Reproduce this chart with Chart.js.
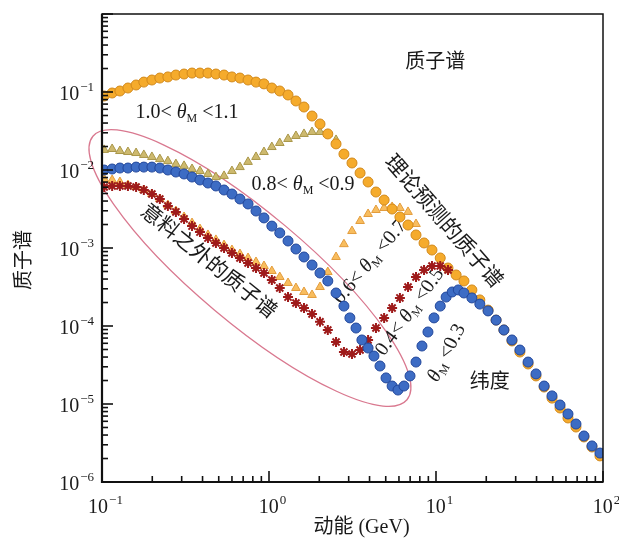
<!DOCTYPE html>
<html>
<head>
<meta charset="utf-8">
<script src="https://cdn.jsdelivr.net/npm/chart.js@4.4.1/dist/chart.umd.min.js"></script>
<style>
  html, body { margin: 0; padding: 0; background: #fff; }
</style>
</head>
<body>
<canvas id="chart" width="619" height="544"></canvas>
<script>
// --- valores: energia cinetica (GeV) y flujo ---
// 1.0 < θM < 1.1 (espectro teorico)
const energyTheory = [0.103, 0.115, 0.128, 0.143, 0.160, 0.178, 0.199, 0.222, 0.248, 0.277, 0.310, 0.346, 0.386, 0.431, 0.481, 0.538, 0.600, 0.670, 0.749, 0.836, 0.933,
  1.04, 1.16, 1.30, 1.45, 1.62, 1.81, 2.02, 2.25, 2.52, 2.81, 3.14, 3.51, 3.92, 4.37, 4.89, 5.46, 6.08, 6.80, 7.59, 8.48, 9.46,
  10.6, 11.8, 13.2, 14.7, 16.4, 18.3, 20.5, 22.9, 25.5, 28.5, 31.8, 35.6, 39.7, 44.4, 49.5, 55.3, 61.7, 68.9, 76.9, 85.9, 95.9];
const fluxTheory = [0.0889, 0.0971, 0.103, 0.1125, 0.123, 0.134, 0.1425, 0.151, 0.156, 0.165, 0.170, 0.175, 0.175, 0.175, 0.170, 0.165, 0.156, 0.151, 0.1425, 0.134, 0.127,
  0.1125, 0.103, 0.0916, 0.0767, 0.0642, 0.0492, 0.0389, 0.0290, 0.0216, 0.0160, 0.0123, 0.00916, 0.00702, 0.00522, 0.00412, 0.00316, 0.00250, 0.00197, 0.00147, 0.00116, 0.000942,
  0.000745, 0.000554, 0.000451, 0.000378, 0.000290, 0.000216, 0.000160, 0.000119, 8.89e-5, 6.43e-5, 4.64e-5, 3.26e-5, 2.29e-5, 1.65e-5, 1.19e-5, 8.89e-6, 6.62e-6, 5.07e-6, 3.78e-6, 2.81e-6, 2.16e-6];

// 0.8 < θM < 0.9
const energy89 = [0.103, 0.115, 0.128, 0.143, 0.160, 0.178, 0.199, 0.222, 0.248, 0.277, 0.310, 0.346, 0.386, 0.431, 0.481, 0.538, 0.600, 0.670, 0.749, 0.836, 0.933,
  1.04, 1.16, 1.30, 1.45, 1.62, 1.81, 2.02, 2.25, 2.52];
const flux89 = [0.0181, 0.0186, 0.0175, 0.0170, 0.0165, 0.0156, 0.0147, 0.0138, 0.0130, 0.0119, 0.0113, 0.0103, 0.0097, 0.0089, 0.0081, 0.0084, 0.0097, 0.0109, 0.0127, 0.0147, 0.0170,
  0.0197, 0.0222, 0.0250, 0.0273, 0.0290, 0.0307, 0.0307, 0.0290, 0.0243];

// 0.6 < θM < 0.7
const energy67 = [0.103, 0.115, 0.128, 0.143, 0.160, 0.178, 0.199, 0.222, 0.248, 0.277, 0.310, 0.346, 0.386, 0.431, 0.481, 0.538, 0.600, 0.670, 0.749, 0.836, 0.933,
  1.04, 1.16, 1.30, 1.45, 1.62, 1.81, 2.02, 2.25, 2.52, 2.81, 3.14, 3.51, 3.92, 4.37, 4.89, 5.46, 6.08, 6.80, 7.59];
const flux67 = [0.00767, 0.00745, 0.00702, 0.00642, 0.00605, 0.00554, 0.00492, 0.00425, 0.00356, 0.00298, 0.00250, 0.00209, 0.00175, 0.00147, 0.00127, 0.00109, 0.000942, 0.000837, 0.000745, 0.000662, 0.000588,
  0.000507, 0.000425, 0.000356, 0.000307, 0.000273, 0.000250, 0.000316, 0.000492, 0.000767, 0.00112, 0.00165, 0.00222, 0.00273, 0.00307, 0.00326, 0.00336, 0.00326, 0.00290, 0.00203];

// 0.4 < θM < 0.5
const energy45 = [0.103, 0.115, 0.128, 0.143, 0.160, 0.178, 0.199, 0.222, 0.248, 0.277, 0.310, 0.346, 0.386, 0.431, 0.481, 0.538, 0.600, 0.670, 0.749, 0.836, 0.933,
  1.04, 1.16, 1.30, 1.45, 1.62, 1.81, 2.02, 2.25, 2.52, 2.81, 3.14, 3.51, 3.92, 4.37, 4.89, 5.46, 6.08, 6.80, 7.59, 8.48, 9.46, 10.6, 11.8];
const flux45 = [0.00605, 0.00624, 0.00624, 0.00624, 0.00605, 0.00554, 0.00492, 0.00425, 0.00345, 0.00290, 0.00236, 0.00191, 0.00160, 0.00134, 0.00116, 0.00100, 0.000863, 0.000745, 0.000642, 0.000554, 0.000478,
  0.000389, 0.000307, 0.000235, 0.000197, 0.000170, 0.000143, 0.000113, 8.89e-5, 6.23e-5, 4.64e-5, 4.38e-5, 4.92e-5, 6.62e-5, 9.42e-5, 0.000127, 0.000170, 0.000229, 0.000316, 0.000425, 0.000523, 0.000588, 0.000588, 0.000523];

// θM < 0.3
const energy03 = [0.103, 0.115, 0.128, 0.143, 0.160, 0.178, 0.199, 0.222, 0.248, 0.277, 0.310, 0.346, 0.386, 0.431, 0.481, 0.538, 0.600, 0.670, 0.749, 0.836, 0.933,
  1.04, 1.16, 1.30, 1.45, 1.62, 1.81, 2.02, 2.25, 2.52, 2.81,
  3.05, 3.32, 3.60, 3.92, 4.25, 4.62, 5.02, 5.46, 5.92, 6.43, 6.99, 7.59, 8.24, 8.95, 9.73, 10.6, 11.5, 12.5,
  13.6, 14.7, 16.4, 18.3, 20.5, 22.9, 25.5, 28.5, 31.8, 35.6, 39.7, 44.4, 49.5, 55.3, 61.7, 68.9, 76.9, 85.9, 95.9];
const flux03 = [0.0100, 0.0103, 0.0106, 0.0106, 0.0109, 0.0109, 0.0109, 0.0106, 0.0100, 0.00942, 0.00889, 0.00813, 0.00745, 0.00681, 0.00624, 0.00554, 0.00492, 0.00425, 0.00367, 0.00298, 0.00243,
  0.00191, 0.00156, 0.00123, 0.000971, 0.000767, 0.000605, 0.000478, 0.000378, 0.000265, 0.000180,
  0.000127, 9.42e-5, 6.62e-5, 5.22e-5, 4.12e-5, 3.07e-5, 2.16e-5, 1.70e-5, 1.51e-5, 1.70e-5, 2.29e-5, 3.45e-5, 5.54e-5, 8.38e-5, 0.000127, 0.000180, 0.000235, 0.000273,
  0.000290, 0.000265, 0.000229, 0.000191, 0.000156, 0.000119, 8.89e-5, 6.62e-5, 4.92e-5, 3.45e-5, 2.43e-5, 1.70e-5, 1.27e-5, 9.71e-6, 7.45e-6, 5.54e-6, 3.89e-6, 2.90e-6, 2.35e-6];

// decadas de los ejes (etiquetas 10^n)
const xDecades = [-1, 0, 1, 2];
const yDecades = [-6, -5, -4, -3, -2, -1];

// --- textos del grafico ---
const xTitle = "动能 (GeV)";
const yTitle = "质子谱";
const notes = [
  { text: "质子谱", x: 9.9, y: 0.235, angle: 0, size: 20 },
  { text: "1.0< θM <1.1", x: 0.323, y: 0.0538, angle: 0, size: 20 },
  { text: "0.8< θM <0.9", x: 1.60, y: 0.00642, angle: 0, size: 20 },
  { text: "理论预测的质子谱", x: 11.0, y: 0.00215, angle: 49, size: 21 },
  { text: "0.6< θM <0.7", x: 4.03, y: 6.62e-4, angle: -50, size: 20 },
  { text: "0.4< θM <0.5", x: 6.98, y: 1.51e-4, angle: -54, size: 20 },
  { text: "θM <0.3", x: 11.6, y: 4.5e-5, angle: -63, size: 20 },
  { text: "纬度", x: 21.0, y: 1.86e-5, angle: 0, size: 20 },
  { text: "意料之外的质子谱", x: 0.431, y: 6.62e-4, angle: 39, size: 21 },
];
// elipse "inesperado": centro en datos, tamanos en pixeles
const ellipse = { x: 0.769, y: 5.54e-4, rx: 205, ry: 55, angle: 40 };

const SERIF = '"Liberation Serif", "Noto Sans CJK SC", serif';
const INK = "#1a1a1a";

function pts(xs, ys) {
  return xs.map((x, i) => ({ x: x, y: ys[i] }));
}

// --- texto con θ italica y subindice M ---
function drawNote(ctx, n, cx, cy) {
  const size = n.size;
  const parts = n.text.split("θM");
  const segs = [];
  if (parts.length === 2) {
    if (parts[0]) segs.push({ t: parts[0], f: `${size}px ${SERIF}`, dy: 0 });
    segs.push({ t: "θ", f: `italic ${size}px ${SERIF}`, dy: 0 });
    segs.push({ t: "M", f: `${Math.round(size * 0.6)}px ${SERIF}`, dy: size * 0.3 });
    segs.push({ t: parts[1], f: `${size}px ${SERIF}`, dy: 0 });
  } else {
    segs.push({ t: n.text, f: `${size}px ${SERIF}`, dy: 0 });
  }
  let w = 0;
  segs.forEach(s => { ctx.font = s.f; s.w = ctx.measureText(s.t).width; w += s.w; });
  ctx.save();
  ctx.translate(cx, cy);
  ctx.rotate(n.angle * Math.PI / 180);
  ctx.fillStyle = INK;
  ctx.textBaseline = "middle";
  ctx.textAlign = "left";
  let x = -w / 2;
  segs.forEach(s => { ctx.font = s.f; ctx.fillText(s.t, x, s.dy); x += s.w; });
  ctx.restore();
}

// 10 con exponente
function drawPow(ctx, exp, x, y, align) {
  const base = "10";
  const sup = exp < 0 ? "\u2212" + Math.abs(exp) : String(exp);
  ctx.font = `20px ${SERIF}`;
  const wb = ctx.measureText(base).width;
  ctx.font = `13px ${SERIF}`;
  const ws = ctx.measureText(sup).width;
  let left = align === "right" ? x - wb - ws : x - (wb + ws) / 2;
  ctx.textBaseline = "alphabetic";
  ctx.textAlign = "left";
  ctx.fillStyle = INK;
  ctx.font = `20px ${SERIF}`;
  ctx.fillText(base, left, y);
  ctx.font = `13px ${SERIF}`;
  ctx.fillText(sup, left + wb + 1, y - 9);
}

// --- plugin: elipse y notas debajo de los puntos, marco y ejes encima ---
const decor = {
  id: "decor",
  beforeDatasetsDraw(chart) {
    const { ctx, scales: { x, y } } = chart;
    ctx.save();
    ctx.strokeStyle = "#d9788f";
    ctx.lineWidth = 1.3;
    ctx.beginPath();
    ctx.ellipse(x.getPixelForValue(ellipse.x), y.getPixelForValue(ellipse.y), ellipse.rx, ellipse.ry,
      ellipse.angle * Math.PI / 180, 0, Math.PI * 2);
    ctx.stroke();
    ctx.restore();
    notes.forEach(n => drawNote(ctx, n, x.getPixelForValue(n.x), y.getPixelForValue(n.y)));
  },
  afterDraw(chart) {
    const { ctx, chartArea: a, scales: { x, y } } = chart;
    ctx.save();
    ctx.strokeStyle = "#111";
    ctx.lineWidth = 1.5;
    ctx.strokeRect(a.left, a.top, a.right - a.left, a.bottom - a.top);
    ctx.lineWidth = 2.2;
    ctx.beginPath();
    ctx.moveTo(a.left, a.top);
    ctx.lineTo(a.left, a.bottom);
    ctx.lineTo(a.right, a.bottom);
    ctx.stroke();

    // marcas hacia dentro
    ctx.lineWidth = 1.6;
    xDecades.forEach(d => {
      for (let m = 1; m <= 9; m++) {
        const v = m * Math.pow(10, d);
        if (v > x.max * 1.0001) break;
        const px = x.getPixelForValue(v);
        const len = m === 1 ? 11 : 6;
        ctx.beginPath();
        ctx.moveTo(px, a.bottom);
        ctx.lineTo(px, a.bottom - len);
        ctx.stroke();
      }
    });
    yDecades.concat([0]).forEach(d => {
      for (let m = 1; m <= 9; m++) {
        const v = m * Math.pow(10, d);
        if (v > y.max * 1.0001) break;
        const py = y.getPixelForValue(v);
        const len = m === 1 ? 11 : 6;
        ctx.beginPath();
        ctx.moveTo(a.left, py);
        ctx.lineTo(a.left + len, py);
        ctx.stroke();
      }
    });

    // etiquetas
    xDecades.forEach(d => drawPow(ctx, d, x.getPixelForValue(Math.pow(10, d)) + 3, a.bottom + 31, "center"));
    yDecades.forEach(d => drawPow(ctx, d, a.left - 9, y.getPixelForValue(Math.pow(10, d)) + 8, "right"));

    // titulos
    ctx.fillStyle = INK;
    ctx.font = `20px ${SERIF}`;
    ctx.textAlign = "center";
    ctx.textBaseline = "middle";
    ctx.fillText(xTitle, (a.left + a.right) / 2 + 9, a.bottom + 46);
    ctx.translate(25, (a.top + a.bottom) / 2 + 12);
    ctx.rotate(-Math.PI / 2);
    ctx.fillText(yTitle, 0, 0);
    ctx.restore();
  }
};

const ctx = document.getElementById("chart").getContext("2d");

new Chart(ctx, {
  type: "scatter",
  data: {
    datasets: [
      { label: "θM<0.3", data: pts(energy03, flux03), order: 0, pointStyle: "circle", pointRadius: 5,
        backgroundColor: "#3d6cc4", borderColor: "#22479b", borderWidth: 1 },
      { label: "0.4<θM<0.5", data: pts(energy45, flux45), order: 1, pointStyle: "star", pointRadius: 5,
        backgroundColor: "#9e1a1a", borderColor: "#9e1a1a", borderWidth: 2 },
      { label: "1.0<θM<1.1", data: pts(energyTheory, fluxTheory), order: 2, pointStyle: "circle", pointRadius: 5,
        backgroundColor: "#f5ab2c", borderColor: "#d2891b", borderWidth: 1 },
      { label: "0.6<θM<0.7", data: pts(energy67, flux67), order: 3, pointStyle: "triangle", pointRadius: 5,
        backgroundColor: "#f8bd5e", borderColor: "#e39c3c", borderWidth: 1 },
      { label: "0.8<θM<0.9", data: pts(energy89, flux89), order: 4, pointStyle: "triangle", pointRadius: 5,
        backgroundColor: "#cdb96e", borderColor: "#a99648", borderWidth: 1 },
    ]
  },
  options: {
    responsive: false,
    animation: false,
    layout: { padding: { left: 102, top: 14, right: 16, bottom: 62 } },
    plugins: { legend: { display: false }, tooltip: { enabled: false } },
    scales: {
      x: { type: "logarithmic", min: 0.1, max: 100, display: false },
      y: { type: "logarithmic", min: 1e-6, max: 1, display: false }
    }
  },
  plugins: [decor]
});
</script>
</body>
</html>
